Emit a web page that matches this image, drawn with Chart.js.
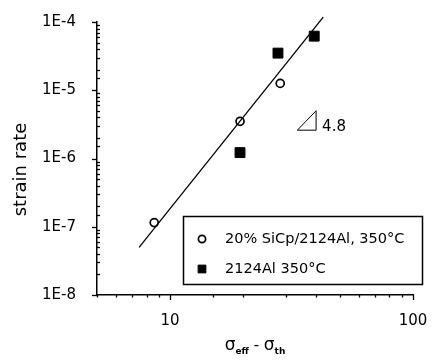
<!DOCTYPE html>
<html>
<head>
<meta charset="utf-8">
<script src="https://cdn.jsdelivr.net/npm/chart.js@4/dist/chart.umd.min.js"></script>
<style>
html,body{margin:0;padding:0;background:#fff;}
#wrap{position:relative;width:438px;height:361px;}
</style>
</head>
<body>
<div id="wrap"><canvas id="c" width="438" height="361"></canvas></div>
<script>
// ---- data ----
const compositeLabel = "20% SiCp/2124Al, 350\u00B0C";
const alloyLabel = "2124Al 350\u00B0C";
const compositeX = [8.6, 19.4, 28.4];
const compositeY = [1.15e-7, 3.5e-6, 1.26e-5];
const alloyX = [19.4, 27.8, 39.2];
const alloyY = [1.22e-6, 3.5e-5, 6.2e-5];
const fitX = [7.45, 42.7];
const fitY = [5.0e-8, 1.18e-4];
const slopeX = [33.4, 39.9, 39.9, 33.4];
const slopeY = [2.6e-6, 2.6e-6, 5.0e-6, 2.6e-6];
const slopeLabel = "4.8";
const xMin = 5, xMax = 100;
const yMin = 1e-8, yMax = 1e-4;
const yTitle = "strain rate";

const pts = (xs, ys) => xs.map((x, i) => ({x: x, y: ys[i]}));
const FONT = "'DejaVu Sans', sans-serif";

function isDecade(v) {
  const e = Math.round(Math.log10(v));
  return Math.abs(v / Math.pow(10, e) - 1) < 1e-6;
}

const decorPlugin = {
  id: 'decor',
  afterDraw(chart) {
    const ctx = chart.ctx;
    const xs = chart.scales.x, ys = chart.scales.y;
    const area = chart.chartArea;
    ctx.save();
    ctx.strokeStyle = '#000';
    ctx.fillStyle = '#000';
    ctx.lineWidth = 1.3;
    // y ticks: majors outward, minors inward
    ys.ticks.forEach(t => {
      const py = Math.round(ys.getPixelForValue(t.value)) + 0.5;
      ctx.beginPath();
      if (isDecade(t.value)) { ctx.moveTo(area.left - 5, py); ctx.lineTo(area.left, py); }
      else { ctx.moveTo(area.left, py); ctx.lineTo(area.left + 3, py); }
      ctx.stroke();
    });
    // x ticks: outward
    xs.ticks.forEach(t => {
      const px = Math.round(xs.getPixelForValue(t.value)) + 0.5;
      ctx.beginPath();
      ctx.moveTo(px, area.bottom);
      ctx.lineTo(px, area.bottom + (isDecade(t.value) ? 5 : 2.5));
      ctx.stroke();
    });
    // slope label
    ctx.font = "15px " + FONT;
    ctx.textAlign = 'left';
    ctx.textBaseline = 'alphabetic';
    ctx.fillText(slopeLabel, xs.getPixelForValue(slopeX[1]) + 6, ys.getPixelForValue(slopeY[1]) + 1);
    // y title
    ctx.save();
    ctx.translate(26, (area.top + area.bottom) / 2 + 11);
    ctx.rotate(-Math.PI / 2);
    ctx.textAlign = 'center';
    ctx.font = "18px " + FONT;
    ctx.fillText(yTitle, 0, 0);
    ctx.restore();
    // x title: sigma_eff - sigma_th
    const parts = [
      {t: '\u03C3', f: "17px " + FONT, dy: 0},
      {t: 'eff', f: "bold 9px " + FONT, dy: 4},
      {t: ' - ', f: "15px " + FONT, dy: 0},
      {t: '\u03C3', f: "17px " + FONT, dy: 0},
      {t: 'th', f: "bold 9px " + FONT, dy: 4}
    ];
    let total = 0;
    parts.forEach(p => { ctx.font = p.f; p.w = ctx.measureText(p.t).width; total += p.w; });
    let cx = (area.left + area.right) / 2 - total / 2;
    const base = 350;
    parts.forEach(p => { ctx.font = p.f; ctx.fillText(p.t, cx, base + p.dy); cx += p.w; });
    // legend box
    const bx = 183, by = 216, bw = 239, bh = 68;
    ctx.fillStyle = '#fff';
    ctx.fillRect(bx, by, bw, bh);
    ctx.lineWidth = 1.5;
    ctx.strokeRect(bx + 0.5, by + 0.5, bw, bh);
    const entries = [
      {ds: chart.data.datasets[1], y: by + 23},
      {ds: chart.data.datasets[2], y: by + 53}
    ];
    entries.forEach(e => {
      ctx.lineWidth = e.ds.borderWidth;
      ctx.strokeStyle = e.ds.borderColor;
      ctx.fillStyle = e.ds.backgroundColor;
      Chart.helpers.drawPoint(ctx, {pointStyle: e.ds.pointStyle, radius: e.ds.pointStyle === 'rect' ? 5.5 : 3.6, borderWidth: e.ds.borderWidth, rotation: 0}, bx + 19, e.y);
      ctx.fillStyle = '#000';
      ctx.font = "14.5px " + FONT;
      ctx.textBaseline = 'middle';
      ctx.fillText(e.ds.label, bx + 42, e.y);
    });
    ctx.restore();
  }
};

new Chart(document.getElementById('c'), {
  type: 'scatter',
  data: {
    datasets: [
      {label: 'fit', data: pts(fitX, fitY), showLine: true, clip: false, pointRadius: 0, borderColor: '#000', borderWidth: 1.3, backgroundColor: '#000'},
      {label: compositeLabel, data: pts(compositeX, compositeY), pointStyle: 'circle', pointRadius: 4, borderWidth: 1.7, borderColor: '#000', backgroundColor: '#fff'},
      {label: alloyLabel, data: pts(alloyX, alloyY), pointStyle: 'rect', pointRadius: 7, borderWidth: 1, borderColor: '#000', backgroundColor: '#000'},
      {label: 'slope', data: pts(slopeX, slopeY), showLine: true, pointRadius: 0, borderColor: '#000', borderWidth: 1, backgroundColor: '#000'}
    ]
  },
  options: {
    responsive: false,
    animation: false,
    events: [],
    layout: {padding: {left: 0, right: 25, top: 15, bottom: 0}},
    plugins: {legend: {display: false}, tooltip: {enabled: false}},
    scales: {
      x: {
        type: 'logarithmic', min: xMin, max: xMax, position: 'bottom',
        grid: {display: false},
        border: {display: true, color: '#000', width: 1.5},
        ticks: {
          autoSkip: false, maxRotation: 0, padding: 9, color: '#000',
          font: {family: FONT, size: 15},
          callback: (v) => isDecade(v) ? String(Math.round(v)) : ''
        },
        afterFit: (s) => { s.height = 361 - 295; }
      },
      y: {
        type: 'logarithmic', min: yMin, max: yMax,
        grid: {display: false},
        border: {display: true, color: '#000', width: 1.5},
        ticks: {
          autoSkip: false, padding: 13, color: '#000',
          font: {family: FONT, size: 15},
          callback: (v) => isDecade(v) ? ('1E' + Math.round(Math.log10(v))) : ''
        },
        afterFit: (s) => { s.width = 97; }
      }
    }
  },
  plugins: [decorPlugin]
});
</script>
</body>
</html>
